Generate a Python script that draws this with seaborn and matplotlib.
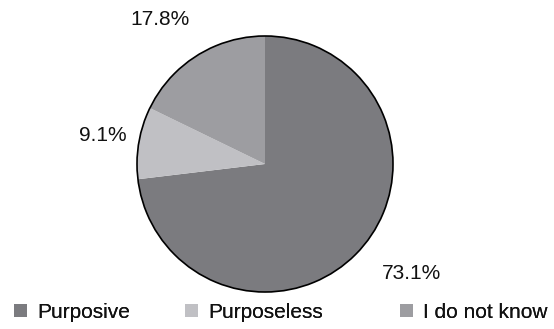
import numpy as np
import matplotlib
matplotlib.use("Agg")
import matplotlib.pyplot as plt
import seaborn as sns
from matplotlib.patches import Patch

categories = ["Purposive", "Purposeless", "I do not know"]
values = [73.1, 9.1, 17.8]
pct_labels = ["73.1%", "9.1%", "17.8%"]
colors = ["#7b7b7f", "#c0c0c4", "#9d9da1"]

sns.set_theme(style="white")
plt.rcParams["font.family"] = ["Liberation Sans", "DejaVu Sans"]

W, H = 554, 329
fig = plt.figure(figsize=(W / 100, H / 100), dpi=100)
fig.patch.set_facecolor("white")
ax = fig.add_axes([137 / W, 37 / H, 256 / W, 256 / H])

wedges, _ = ax.pie(values, colors=colors, startangle=90, counterclock=False,
                   wedgeprops=dict(linewidth=0))
# outer outline
ax.pie([1], colors=["none"], wedgeprops=dict(edgecolor="black", linewidth=1.2, fill=False))
ax.set_xlim(-1, 1)
ax.set_ylim(-1, 1)
ax.set_aspect("equal")
ax.axis("off")

# label placement: radial distance and angular nudge (degrees)
label_dist = [1.43, 1.29, 1.40]
label_nudge = [4.8, -0.5, 4.0]
for w, lab, d, nd in zip(wedges, pct_labels, label_dist, label_nudge):
    ang = np.deg2rad((w.theta1 + w.theta2) / 2 + nd)
    ax.text(d * np.cos(ang), d * np.sin(ang), lab, ha="center", va="center",
            fontsize=15, color="#111111", clip_on=False)

# legend entries, one per column position
legend_x = [14, 185, 400]
for cat, col, lx in zip(categories, colors, legend_x):
    leg = fig.legend([Patch(facecolor=col, edgecolor="none")], [cat], loc="center left",
                     bbox_to_anchor=(lx / W, 1 - 312.5 / H), frameon=False, fontsize=15,
                     handlelength=0.6, handleheight=0.6, handletextpad=0.5,
                     borderpad=0, borderaxespad=0, labelcolor="#111111")
    fig.add_artist(leg)

fig.savefig("out.png", dpi=100, facecolor="white")
